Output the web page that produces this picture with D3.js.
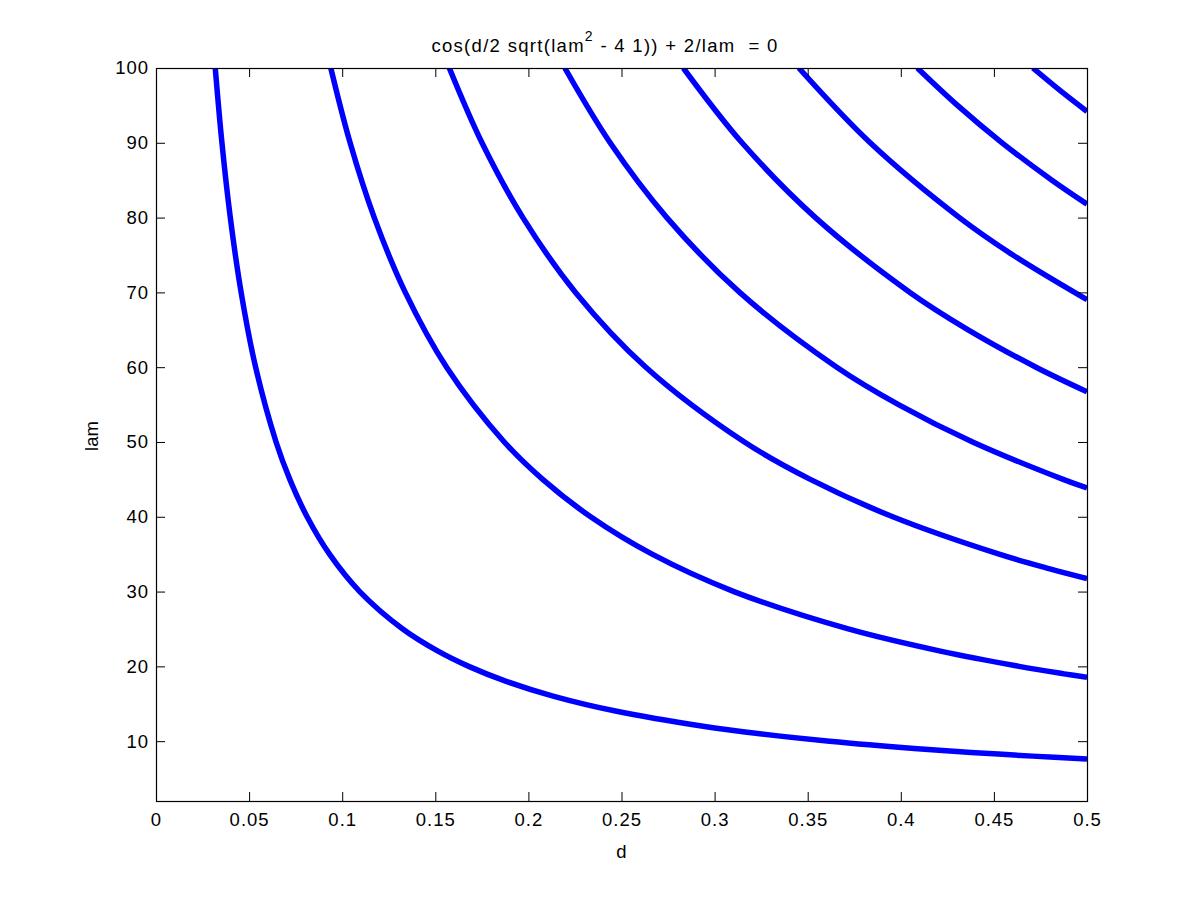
<!DOCTYPE html>
<html>
<head>
<meta charset="utf-8">
<script src="https://cdn.jsdelivr.net/npm/d3@7"></script>
<style>
  html, body { margin: 0; padding: 0; background: #fff; }
  svg { display: block; }
  text { font-family: "Liberation Sans", Arial, Helvetica, sans-serif; fill: #000; }
</style>
</head>
<body>
<svg id="chart" width="1201" height="900"></svg>
<script>
// ---- Data: each branch is a list of [d, lam] points ----
const branch1 = [[0.03182,100],[0.03541,90],[0.03991,80],[0.04572,70],[0.05350,60],[0.06448,50],[0.07186,45],[0.08114,40],[0.09318,35],[0.10941,30],[0.13250,25],[0.15170,22],[0.16794,20],[0.18807,18],[0.21369,16],[0.24743,14],[0.29382,12],[0.32424,11],[0.36174,10],[0.40909,9],[0.43778,8.5],[0.47082,8],[0.5,7.615]];
const branch2 = [[0.09387,100],[0.10425,90],[0.11722,80],[0.13388,70],[0.15606,60],[0.18704,50],[0.20767,45],[0.23341,40],[0.26645,35],[0.31040,30],[0.37177,25],[0.42187,22],[0.46354,20],[0.48766,19],[0.5,18.525]];
const branch3 = [[0.15751,100],[0.17507,90],[0.19704,80],[0.22531,70],[0.26306,60],[0.31601,50],[0.35139,45],[0.39569,40],[0.45280,35],[0.48056,33],[0.5,31.73]];
const branch4 = [[0.21956,100],[0.24391,90],[0.27435,80],[0.31347,70],[0.36561,60],[0.39878,55],[0.43857,50],[0.48719,45],[0.5,43.845]];
const branch5 = [[0.28320,100],[0.31473,90],[0.35417,80],[0.40490,70],[0.43615,65],[0.47261,60],[0.5,56.725]];
const branch6 = [[0.34524,100],[0.38357,90],[0.43148,80],[0.46022,75],[0.5,69.028]];
const branch7 = [[0.40889,100],[0.43044,95],[0.45439,90],[0.48117,85],[0.5,81.804]];
const branch8 = [[0.47093,100],[0.48549,97],[0.5,94.184]];
const branches = [branch1, branch2, branch3, branch4, branch5, branch6, branch7, branch8];

const xDomain = [0, 0.5];
const yDomain = [2, 100];
const xTicks = [0, 0.05, 0.1, 0.15, 0.2, 0.25, 0.3, 0.35, 0.4, 0.45, 0.5];
const yTicks = [10, 20, 30, 40, 50, 60, 70, 80, 90, 100];
const xTickLabels = ["0","0.05","0.1","0.15","0.2","0.25","0.3","0.35","0.4","0.45","0.5"];
const yTickLabels = ["10","20","30","40","50","60","70","80","90","100"];
const xLabel = "d";
const yLabel = "lam";

// ---- Layout ----
const mLeft = 156, mRight = 1087, mTop = 68, mBottom = 801;
const svg = d3.select("#chart");
const x = d3.scaleLinear().domain(xDomain).range([mLeft, mRight]);
const y = d3.scaleLinear().domain(yDomain).range([mBottom, mTop]);

svg.append("rect").attr("x",0).attr("y",0).attr("width",1201).attr("height",900).attr("fill","#fff");

svg.append("defs").append("clipPath").attr("id","plotclip")
  .append("rect").attr("x", mLeft).attr("y", mTop).attr("width", mRight-mLeft).attr("height", mBottom-mTop);

// curves
const line = d3.line().x(d => x(d[0])).y(d => y(d[1])).curve(d3.curveCatmullRom.alpha(0.5));
svg.append("g").attr("clip-path","url(#plotclip)")
  .selectAll("path").data(branches).join("path")
  .attr("d", line)
  .attr("fill","none")
  .attr("stroke","#0000ff")
  .attr("stroke-width",5.5)
  .attr("stroke-linejoin","round");

// axes (ticks inward, mirrored on all sides)
const tickLen = 9;
const fmtX = (d,i) => xTickLabels[i];
const fmtY = (d,i) => yTickLabels[i];
const styleAxis = g => {
  g.select(".domain").remove();
  g.selectAll(".tick line").attr("stroke","#000").attr("stroke-width",1);
  g.selectAll(".tick text").attr("font-size","18.5px").attr("letter-spacing","1px")
    .attr("font-family","'Liberation Sans', Arial, Helvetica, sans-serif").attr("fill","#000");
};

svg.append("g").attr("transform",`translate(0,${mBottom})`)
  .call(d3.axisBottom(x).tickValues(xTicks).tickFormat(fmtX).tickSizeInner(-tickLen).tickSizeOuter(0).tickPadding(12))
  .call(styleAxis);
svg.append("g").attr("transform",`translate(0,${mTop})`)
  .call(d3.axisTop(x).tickValues(xTicks).tickFormat("").tickSizeInner(-tickLen).tickSizeOuter(0))
  .call(styleAxis);
svg.append("g").attr("transform",`translate(${mLeft},0)`)
  .call(d3.axisLeft(y).tickValues(yTicks).tickFormat(fmtY).tickSizeInner(-tickLen).tickSizeOuter(0).tickPadding(7))
  .call(styleAxis);
svg.append("g").attr("transform",`translate(${mRight},0)`)
  .call(d3.axisRight(y).tickValues(yTicks).tickFormat("").tickSizeInner(-tickLen).tickSizeOuter(0))
  .call(styleAxis);

// box
svg.append("rect").attr("x", mLeft+0.5).attr("y", mTop+0.5).attr("width", mRight-mLeft).attr("height", mBottom-mTop)
  .attr("fill","none").attr("stroke","#000").attr("stroke-width",1.2);

// axis labels
svg.append("text").attr("x", (mLeft+mRight)/2).attr("y", 858).attr("text-anchor","middle")
  .attr("font-size","18.5px").text(xLabel);
svg.append("text").attr("transform",`translate(98,436) rotate(-90)`).attr("text-anchor","middle")
  .attr("font-size","18.5px").text(yLabel);

// title with superscript
const title = svg.append("text").attr("x", 605).attr("y", 52).attr("text-anchor","middle")
  .attr("font-size","18.5px").attr("letter-spacing","1.3px").attr("xml:space","preserve");
title.append("tspan").text("cos(d/2 sqrt(lam");
title.append("tspan").attr("dy",-11).attr("font-size","14px").text("2");
title.append("tspan").attr("dy",11).text(" - 4 1)) + 2/lam\u00A0 = 0");
</script>
</body>
</html>
